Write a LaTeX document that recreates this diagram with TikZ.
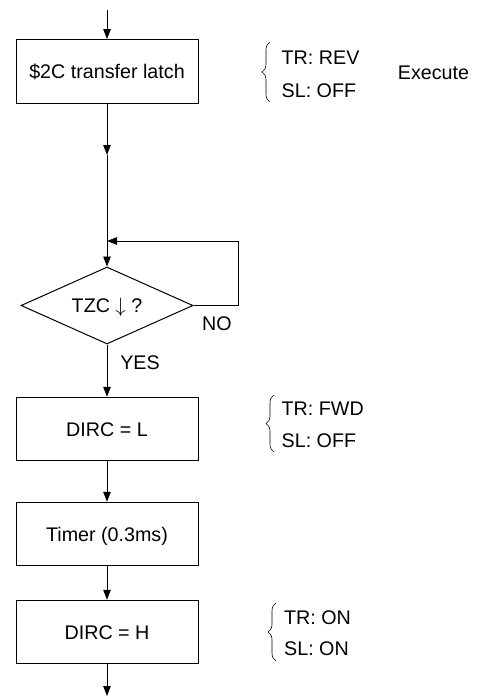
\documentclass[tikz,border=0pt]{standalone}
\usepackage{fontspec}
\setmainfont{Liberation Sans}
\usetikzlibrary{shapes.geometric,decorations.pathreplacing,arrows.meta}
\begin{document}
\begin{tikzpicture}[x=1pt,y=-1pt,
  every node/.style={font=\fontsize{19.7}{24}\selectfont, text height=14pt, text depth=0pt},
  procbox/.style={draw, line width=1pt, minimum width=182pt, minimum height=63.5pt, inner sep=0pt},
  decision/.style={draw, line width=1pt, diamond, aspect=2.23, minimum width=172pt, minimum height=77pt, inner sep=0pt},
  flow/.style={line width=0.8pt, -{Triangle[length=10pt,width=7.5pt]}},
  plain/.style={line width=0.8pt},
  note/.style={anchor=west, inner sep=0pt},
  curly/.style={line width=0.6pt, decorate, decoration={brace, amplitude=8pt}},
]
\useasboundingbox (0,0) rectangle (477,696);
% nodes
\node[procbox] (b1) at (107,71.3) {\$2C transfer latch};
\node[decision] (d1) at (107,305.5) {TZC $\downarrow$ ?};
\node[procbox] (b2) at (107,429) {DIRC = L};
\node[procbox] (b3) at (107,534) {Timer (0.3ms)};
\node[procbox] (b4) at (107,632) {DIRC = H};
\coordinate (top) at (107,10);
\coordinate (m1) at (107,155);
\coordinate (lp1) at (238,305.5);
\coordinate (lp2) at (238,241);
\coordinate (lp3) at (107,241);
\coordinate (bot) at (107,696);
% labels
\node (no) at (217,323) {NO};
\node (yes) at (140,362) {YES};
% connectors
\draw[flow] (top) -- (b1.north);
\draw[flow] (b1.south) -- (m1);
\draw[flow] (m1) -- (d1.north);
\draw[plain] (d1.east) -- (lp1) -- (lp2);
\draw[flow] (lp2) -- (lp3);
\draw[flow] (d1.south) -- (b2.north);
\draw[flow] (b2.south) -- (b3.north);
\draw[flow] (b3.south) -- (b4.north);
\draw[flow] (b4.south) -- (bot);
% annotations
\draw[curly] (270,102) -- (270,42);
\node[note] (a1) at (281.5,57.5) {TR: REV};
\node[note] (a2) at (281.5,90) {SL: OFF};
\node (ex) at (433.5,72) {Execute};
\draw[curly] (274,452) -- (274,395);
\node[note] (a3) at (281.5,408) {TR: FWD};
\node[note] (a4) at (281.5,440) {SL: OFF};
\draw[curly] (276,661) -- (276,603);
\node[note] (a5) at (284,617) {TR: ON};
\node[note] (a6) at (284,648) {SL: ON};
\end{tikzpicture}
\end{document}
